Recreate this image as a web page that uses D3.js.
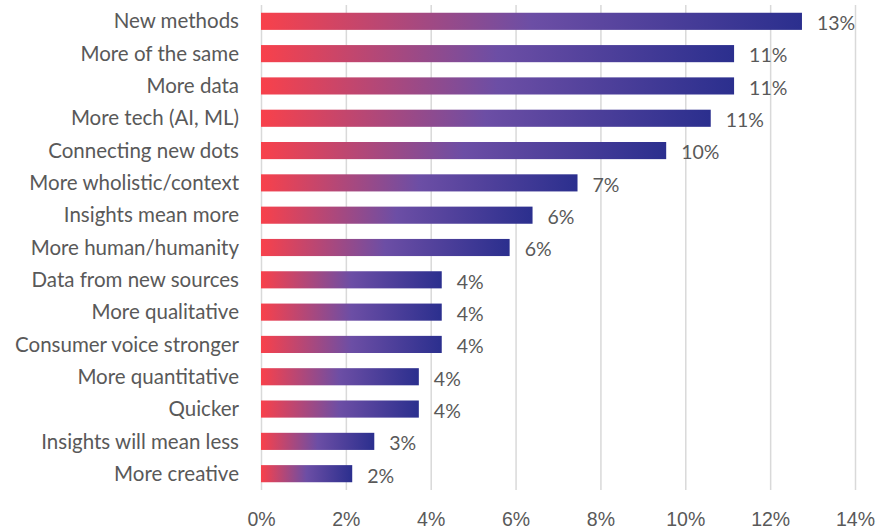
<!DOCTYPE html>
<meta charset="utf-8">
<style>
  body { margin: 0; background: #fff; }
  svg { font-family: 'Lato', 'Open Sans', sans-serif; }
  .grid line { stroke: #d9d9d9; stroke-width: 1.5px; }
  .grid .domain { display: none; }
  .x .domain, .x .tick line { display: none; }
  .x .tick text { font-size: 19.5px; fill: #595959; }
  .cat { font-size: 20.5px; fill: #595959; }
  .val { font-size: 19.5px; fill: #595959; }
</style>
<script src="https://d3js.org/d3.v7.min.js"></script>
<div id="chart"></div>
<script>
  // data
  const categories = ["New methods", "More of the same", "More data", "More tech (AI, ML)",
    "Connecting new dots", "More wholistic/context", "Insights mean more", "More human/humanity",
    "Data from new sources", "More qualitative", "Consumer voice stronger", "More quantitative",
    "Quicker", "Insights will mean less", "More creative"];
  const values = [12.75, 11.15, 11.15, 10.6, 9.55, 7.46, 6.4, 5.86, 4.26, 4.26, 4.26, 3.72, 3.72, 2.67, 2.15];
  const labels = ["13%", "11%", "11%", "11%", "10%", "7%", "6%", "6%", "4%", "4%", "4%", "4%", "4%", "3%", "2%"];
  const xTicks = [0, 2, 4, 6, 8, 10, 12, 14];

  const width = 885, height = 532;

  const svg = d3.select("#chart").append("svg")
      .attr("width", width)
      .attr("height", height);

  const x = d3.scaleLinear().domain([0, 14]).range([261, 855]);
  const y = d3.scaleBand().domain(categories).range([5, 490]).paddingInner(0.47).paddingOuter(0.24);

  // gradient for bars (per bar)
  const defs = svg.append("defs");
  const grad = defs.append("linearGradient")
      .attr("id", "barGrad")
      .attr("x1", "0%").attr("x2", "100%").attr("y1", "0%").attr("y2", "0%");
  grad.append("stop").attr("offset", "0%").attr("stop-color", "#f8414b");
  grad.append("stop").attr("offset", "50%").attr("stop-color", "#6c4ea5");
  grad.append("stop").attr("offset", "100%").attr("stop-color", "#2b2f8e");

  // vertical gridlines
  svg.append("g")
      .attr("class", "grid")
      .attr("transform", "translate(0,5)")
      .call(d3.axisBottom(x).tickValues(xTicks).tickSize(485).tickFormat(""));

  // x axis labels
  svg.append("g")
      .attr("class", "x")
      .attr("transform", "translate(0,509)")
      .call(d3.axisBottom(x).tickValues(xTicks).tickSize(0).tickFormat(d => d + "%"));

  const rows = categories.map((c, i) => ({cat: c, v: values[i], lab: labels[i]}));

  svg.append("g").selectAll("rect")
    .data(rows)
    .join("rect")
      .attr("x", x(0))
      .attr("y", d => y(d.cat))
      .attr("width", d => x(d.v) - x(0))
      .attr("height", y.bandwidth())
      .attr("fill", "url(#barGrad)");

  svg.append("g").selectAll("text")
    .data(rows)
    .join("text")
      .attr("class", "cat")
      .attr("x", 239)
      .attr("y", d => y(d.cat) + y.bandwidth() / 2)
      .attr("dy", "0.35em")
      .attr("text-anchor", "end")
      .text(d => d.cat);

  svg.append("g").selectAll("text")
    .data(rows)
    .join("text")
      .attr("class", "val")
      .attr("x", d => x(d.v) + 15)
      .attr("y", d => y(d.cat) + y.bandwidth() / 2 + 2)
      .attr("dy", "0.35em")
      .text(d => d.lab);
</script>
